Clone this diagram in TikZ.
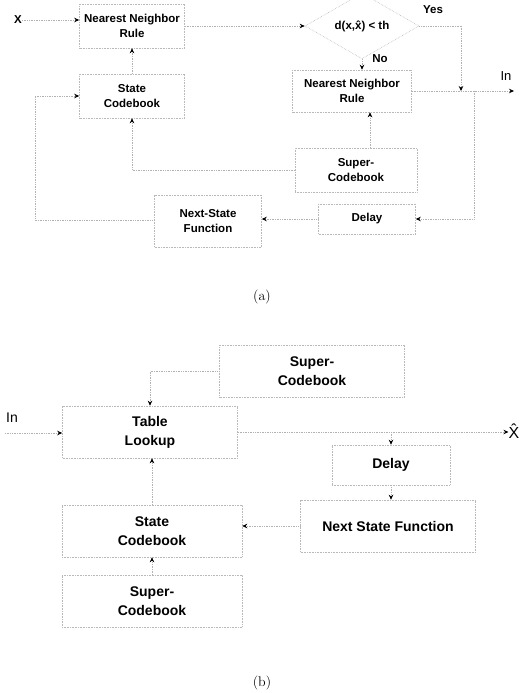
\documentclass[tikz,border=0pt]{standalone}
\usepackage{fontspec}
\newfontfamily\arialb{Liberation Sans}
\usetikzlibrary{arrows.meta,shapes.geometric,calc}
\begin{document}
\begin{tikzpicture}[x=1pt,y=-1pt,
  boxa/.style={draw=gray!55, densely dotted, line width=0.6pt, inner sep=0pt, align=center,
    font=\arialb\bfseries\fontsize{11.5}{14.5}\selectfont},
  boxb/.style={draw=gray!55, densely dotted, line width=0.6pt, inner sep=0pt, align=center,
    font=\arialb\bfseries\fontsize{14}{19}\selectfont},
  lbla/.style={inner sep=0pt, font=\arialb\bfseries\fontsize{11.5}{14}\selectfont},
  lblb/.style={inner sep=0pt, font=\arialb\fontsize{14}{16}\selectfont},
  captext/.style={inner sep=0pt, font=\fontsize{14}{16}\selectfont},
  conn/.style={draw=gray!60, densely dotted, line width=0.7pt,
    -{Stealth[color=black,length=5pt,width=4.5pt]}},
  plainline/.style={draw=gray!60, densely dotted, line width=0.7pt}]
\useasboundingbox (0,0) rectangle (523,693);

% ---------------- (a) ----------------
\node[lbla] (xa) at (18,20) {X};
\node[boxa, minimum width=105pt, minimum height=44pt] (nn1) at (132,26) {Nearest Neighbor\\Rule};
\node[boxa, minimum width=105pt, minimum height=44pt] (scb) at (132,96) {State\\Codebook};
\node[draw=gray!55, densely dotted, line width=0.6pt, diamond, inner sep=0pt,
  minimum width=114pt, minimum height=46pt, font=\arialb\bfseries\fontsize{11.5}{14}\selectfont]
  (dia) at (362,26) {d(x,\^{x}) < th};
\node[lbla] (yes) at (433,10) {Yes};
\node[lbla] (no) at (380,59) {No};
\node[boxa, minimum width=119pt, minimum height=42pt] (nn2) at (352,91) {Nearest Neighbor\\Rule};
\node[lbla, font=\arialb\fontsize{13}{14}\selectfont] (ina) at (506,76) {In};
\node[boxa, minimum width=122pt, minimum height=44pt] (supa) at (356,170) {Super-\\Codebook};
\node[boxa, minimum width=97pt, minimum height=30pt] (dla) at (367,219) {Delay};
\node[boxa, minimum width=107pt, minimum height=52pt] (nsfa) at (208,221) {Next-State\\Function};

\coordinate (outa) at (514,91);
\coordinate (yesc) at (461,91);
\coordinate (tapa) at (474,91);
\coordinate (lefta) at (35,220);

\draw[conn] (xa.east) -- (nn1.west |- xa);
\draw[conn] (nn1.east |- dia.west) -- (dia.west);
\draw[plainline] (dia.east) -- (yesc |- dia.east);
\draw[conn] (yesc |- dia.east) -- (yesc);
\draw[conn] (dia.south) -- (dia.south |- nn2.north);
\draw[conn] (nn2.east) -- (outa);
\draw[conn] ([xshift=14pt]supa.north) -- ([xshift=14pt]supa.north |- nn2.south);
\draw[conn] (supa.west) -- (scb.south |- supa.west) -- (scb.south);
\draw[conn] (scb.north) -- (nn1.south);
\draw[conn] (tapa) -- (tapa |- dla.east) -- (dla.east);
\draw[conn] (dla.west) -- (nsfa.east |- dla.west);
\draw[conn] (nsfa.west |- lefta) -- (lefta) -- (lefta |- scb.west) -- (scb.west);

\node[captext] (capa) at (262,297) {(a)};

% ---------------- (b) ----------------
\node[boxb, minimum width=185pt, minimum height=52pt] (sb1) at (312,371) {Super-\\Codebook};
\node[boxb, minimum width=175pt, minimum height=52pt] (tl) at (150,432) {Table\\Lookup};
\node[lblb] (inb) at (12,418) {In};
\node[lblb, font=\arialb\fontsize{16}{18}\selectfont] (xhat) at (514,431) {\^{X}};
\node[boxb, minimum width=118pt, minimum height=40pt] (dlb) at (391,465) {Delay};
\node[boxb, minimum width=175pt, minimum height=52pt] (nsfb) at (388,526) {Next State Function};
\node[boxb, minimum width=180pt, minimum height=52pt] (scbb) at (152,531) {State\\Codebook};
\node[boxb, minimum width=180pt, minimum height=52pt] (sb2) at (152,601) {Super-\\Codebook};

\coordinate (inbs) at (5,433);

\draw[conn] (inbs) -- (tl.west |- inbs);
\draw[conn] (sb1.west) -- (tl.north |- sb1.west) -- (tl.north);
\draw[conn] (tl.east) -- (xhat.west |- tl.east);
\draw[conn] (dlb.north |- tl.east) -- (dlb.north);
\draw[conn] (dlb.south) -- (dlb.south |- nsfb.north);
\draw[conn] (nsfb.west) -- (scbb.east |- nsfb.west);
\draw[conn] (scbb.north) -- (scbb.north |- tl.south);
\draw[conn] (sb2.north) -- (sb2.north |- scbb.south);

\node[captext] (capb) at (262,683) {(b)};
\end{tikzpicture}
\end{document}
